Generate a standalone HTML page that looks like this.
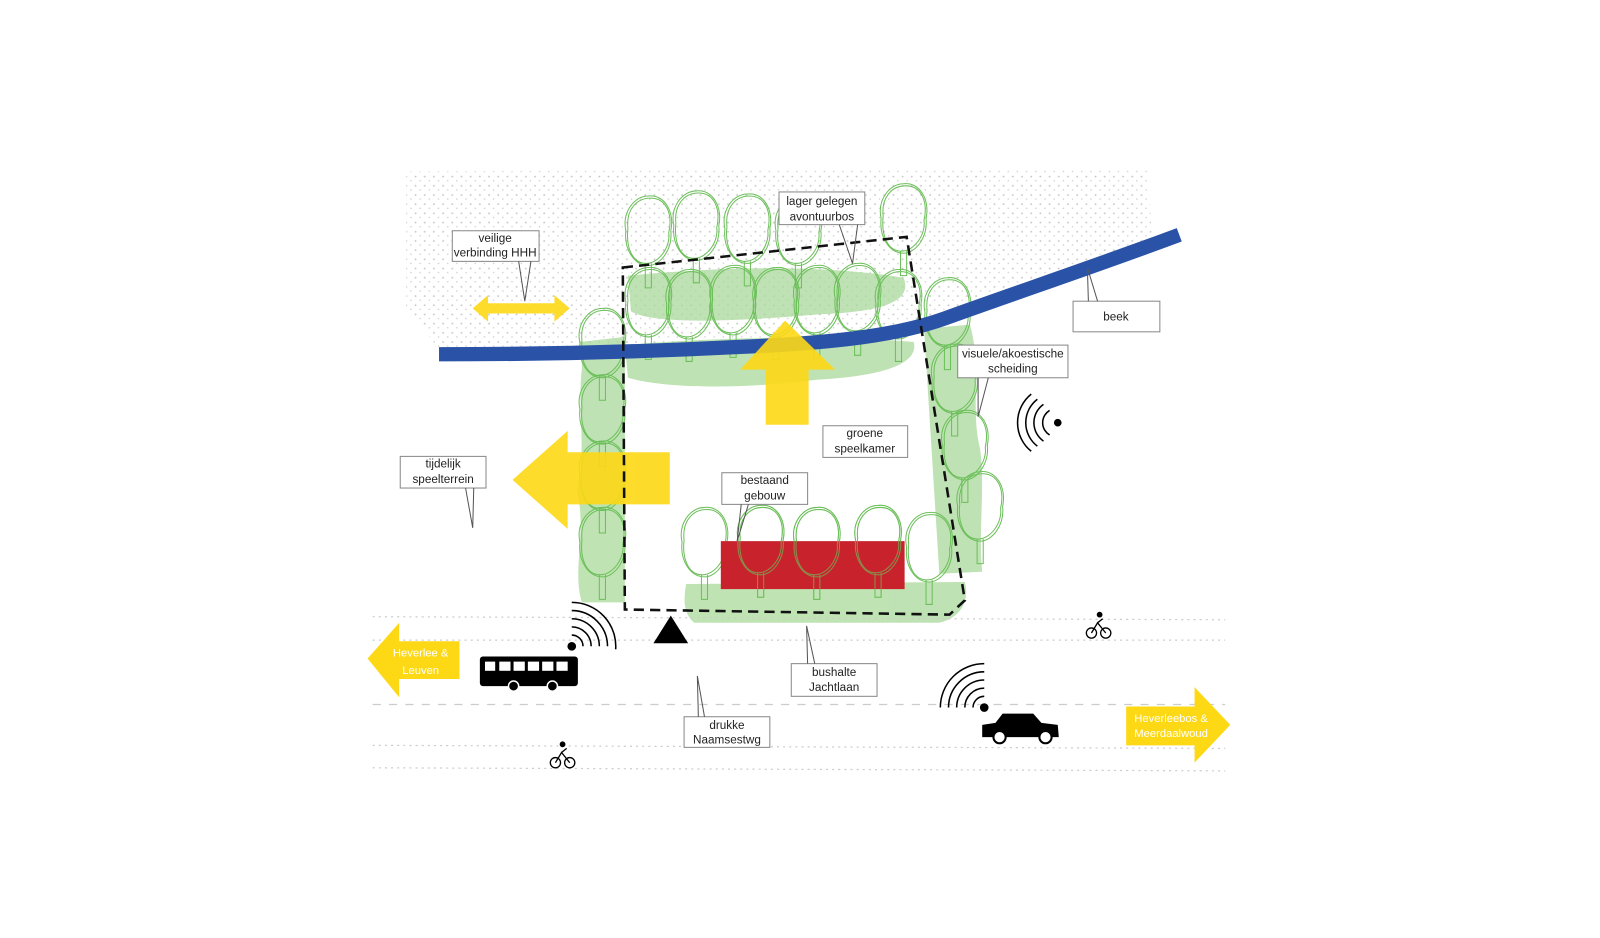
<!DOCTYPE html>
<html><head><meta charset="utf-8"><style>
html,body{margin:0;padding:0;background:#fff}
svg{display:block}
text{font-family:"Liberation Sans",sans-serif;font-size:11.5px;fill:#222;text-anchor:middle}
.lab rect{fill:#fff;stroke:#888;stroke-width:1}
.lab path{fill:none;stroke:#555;stroke-width:1}
</style></head><body>
<svg width="1600" height="938" viewBox="0 0 1600 938" xmlns="http://www.w3.org/2000/svg">
<defs>
<pattern id="dots" width="9" height="9" patternUnits="userSpaceOnUse">
<circle cx="2" cy="2" r="0.9" fill="#c8c8c8"/><circle cx="6.5" cy="6" r="0.8" fill="#d2d2d2"/>
</pattern>
<g id="tree" fill="none" stroke="#6cbf5a" stroke-width="1">
<path d="M0,-38 C16,-40 26,-22 22,-4 C24,14 12,30 0,30 C-14,30 -24,14 -22,-4 C-26,-22 -14,-38 0,-38Z"/>
<path d="M2,-36 C18,-36 24,-20 20,-2 C22,12 10,28 -2,28 C-16,28 -22,12 -20,-6 C-22,-24 -12,-36 2,-36Z"/>
<path d="M-3,28 L-3,52 L3,52 L3,28"/>
</g>
</defs>
<g transform="scale(1.021)">
<path d="M398,168 L1125,165 L1128,235 L960,290 L900,318 L700,338 L430,342 L398,300 Z" fill="url(#dots)"/>
<g fill="#a9d99a" opacity="0.75">
<path d="M615,270 C700,262 800,258 885,272 C892,290 880,305 800,308 C720,315 640,318 618,305 Z"/>
<path d="M612,338 C700,330 820,328 895,335 C900,355 870,368 800,372 C720,382 650,380 615,370 Z"/>
<path d="M568,335 L612,330 L612,590 L570,590 C560,560 575,520 565,480 C575,440 565,400 570,360 Z"/>
<path d="M905,322 L950,318 C962,360 950,400 960,440 C965,480 958,520 962,560 L920,562 Z"/>
<path d="M672,572 L945,570 C950,590 940,605 920,610 L680,610 C668,600 670,585 672,572 Z"/>
</g>
<g>
<use href="#tree" x="635" y="230"/><use href="#tree" x="682" y="225"/><use href="#tree" x="732" y="228"/><use href="#tree" x="782" y="230"/><use href="#tree" x="885" y="218"/>
<use href="#tree" x="635" y="300"/><use href="#tree" x="675" y="302"/><use href="#tree" x="718" y="298"/><use href="#tree" x="760" y="300"/><use href="#tree" x="800" y="298"/><use href="#tree" x="840" y="296"/><use href="#tree" x="880" y="302"/>
<use href="#tree" x="590" y="340"/><use href="#tree" x="590" y="405"/><use href="#tree" x="590" y="470"/><use href="#tree" x="590" y="535"/>
<use href="#tree" x="928" y="310"/><use href="#tree" x="935" y="375"/><use href="#tree" x="945" y="440"/><use href="#tree" x="960" y="500"/>
<use href="#tree" x="690" y="535"/><use href="#tree" x="745" y="533"/><use href="#tree" x="800" y="535"/><use href="#tree" x="860" y="533"/><use href="#tree" x="910" y="540"/>
</g>
<path d="M430,347 C520,347 620,345 720,340 C820,336 880,328 925,312 C1000,285 1080,258 1155,230" fill="none" stroke="#2a53a8" stroke-width="14"/>
<g fill="#fdd815" opacity="0.9">
<path d="M769,314 L818,362 L792,362 L792,416 L750,416 L750,362 L725,362 Z"/>
<path d="M502,470 L556,422 L556,443 L656,443 L656,494 L556,494 L556,518 Z"/>
<path d="M463,302 L478,289 L478,297 L543,297 L543,289 L558,302 L543,315 L543,307 L478,307 L478,315 Z"/>
</g>
<rect x="706" y="530" width="180" height="47" fill="#c8232c"/>
<g><use href="#tree" x="745" y="533" opacity="0.7"/><use href="#tree" x="800" y="535" opacity="0.7"/><use href="#tree" x="860" y="533" opacity="0.7"/></g>
<path d="M610,262 L888,232 L945,588 L930,602 L612,597 Z" fill="none" stroke="#111" stroke-width="2.5" stroke-dasharray="10,6"/>
<g stroke="#ccc" stroke-width="1.2" fill="none">
<line x1="365" y1="604" x2="1200" y2="607" stroke-dasharray="2,4"/>
<line x1="365" y1="627" x2="1200" y2="627" stroke-dasharray="2,4"/>
<line x1="365" y1="690" x2="1200" y2="690" stroke-dasharray="8,8"/>
<line x1="365" y1="730" x2="1200" y2="733" stroke-dasharray="2,4"/>
<line x1="365" y1="752" x2="1200" y2="755" stroke-dasharray="2,4"/>
</g>
<path d="M360,645 L391,610 L391,628 L450,628 L450,665 L391,665 L391,683 Z" fill="#fdd815"/>
<text x="412" y="643" style="fill:#fff;font-size:11px">Heverlee &amp;</text>
<text x="412" y="660" style="fill:#fff;font-size:11px">Leuven</text>
<path d="M1205,710 L1170,673 L1170,692 L1103,692 L1103,730 L1170,730 L1170,747 Z" fill="#fdd815"/>
<text x="1147" y="707" style="fill:#fff;font-size:11px">Heverleebos &amp;</text>
<text x="1147" y="722" style="fill:#fff;font-size:11px">Meerdaalwoud</text>
<path d="M657,603 L674,630 L640,630 Z" fill="#000"/>
<rect x="470" y="643" width="96" height="29" rx="3" fill="#000"/>
<g fill="#fff"><rect x="475" y="648" width="10" height="9"/><rect x="489" y="648" width="11" height="9"/><rect x="503" y="648" width="11" height="9"/><rect x="517" y="648" width="11" height="9"/><rect x="531" y="648" width="11" height="9"/><rect x="545" y="648" width="11" height="9"/></g>
<circle cx="503" cy="672" r="5" fill="#000" stroke="#fff" stroke-width="1.5"/><circle cx="541" cy="672" r="5" fill="#000" stroke="#fff" stroke-width="1.5"/>
<path d="M962,710 L975,708 L982,699 L1012,699 L1020,708 L1036,710 L1037,722 L962,722 Z" fill="#000"/>
<circle cx="979" cy="722" r="6" fill="#fff" stroke="#000" stroke-width="2"/><circle cx="1024" cy="722" r="6" fill="#fff" stroke="#000" stroke-width="2"/>
<g fill="none" stroke="#000" stroke-width="1.5">
<circle cx="560" cy="633" r="3.5" fill="#000"/>
<path d="M560,622 A11,11 0 0 1 571,633"/><path d="M560,614 A19,19 0 0 1 579,633"/><path d="M560,606 A27,27 0 0 1 587,633"/><path d="M560,598 A35,35 0 0 1 595,633"/><path d="M560,590 A43,43 0 0 1 603,636"/>
<circle cx="964" cy="693" r="3.5" fill="#000"/>
<path d="M953,693 A11,11 0 0 1 964,682"/><path d="M945,693 A19,19 0 0 1 964,674"/><path d="M937,693 A27,27 0 0 1 964,666"/><path d="M929,693 A35,35 0 0 1 964,658"/><path d="M921,693 A43,43 0 0 1 964,650"/>
<circle cx="1036" cy="414" r="3" fill="#000"/>
<path d="M1028,402 A14,14 0 0 0 1028,426"/><path d="M1022,396 A22,22 0 0 0 1022,432"/><path d="M1016,391 A29,29 0 0 0 1016,437"/><path d="M1010,386 A36,36 0 0 0 1010,442"/>
</g>
<g fill="none" stroke="#000" stroke-width="1.3">
<circle cx="1069" cy="620" r="5"/><circle cx="1083" cy="620" r="5"/><path d="M1069,620 L1075,610 L1083,620 M1075,610 L1080,606"/><circle cx="1077" cy="602" r="2.2" fill="#000"/>
<circle cx="544" cy="747" r="5"/><circle cx="558" cy="747" r="5"/><path d="M544,747 L550,737 L558,747 M550,737 L555,733"/><circle cx="551" cy="729" r="2.2" fill="#000"/>
</g>
<g class="lab">
<rect x="443" y="226" width="85" height="30"/><path d="M508,256 L514,295 L520,256"/>
<text x="485" y="237">veilige</text><text x="485" y="251">verbinding HHH</text>
<rect x="763" y="188" width="84" height="32"/><path d="M822,220 L835,258 L840,220"/>
<text x="805" y="201">lager gelegen</text><text x="805" y="216">avontuurbos</text>
<rect x="1051" y="295" width="85" height="30"/><path d="M1075,295 L1065,262 L1066,295"/>
<text x="1093" y="314">beek</text>
<rect x="938" y="338" width="108" height="32"/><path d="M958,370 L958,408 L968,370"/>
<text x="992" y="350">visuele/akoestische</text><text x="992" y="365">scheiding</text>
<rect x="806" y="417" width="83" height="31"/>
<text x="847" y="428">groene</text><text x="847" y="443">speelkamer</text>
<rect x="392" y="447" width="84" height="31"/><path d="M456,478 L463,517 L464,478"/>
<text x="434" y="458">tijdelijk</text><text x="434" y="473">speelterrein</text>
<rect x="707" y="463" width="84" height="31"/><path d="M726,494 L722,530 L733,494"/>
<text x="749" y="474">bestaand</text><text x="749" y="489">gebouw</text>
<rect x="775" y="650" width="84" height="32"/><path d="M798,650 L790,613 L791,650"/>
<text x="817" y="662">bushalte</text><text x="817" y="677">Jachtlaan</text>
<rect x="670" y="702" width="84" height="30"/><path d="M690,702 L683,662 L684,702"/>
<text x="712" y="714">drukke</text><text x="712" y="728">Naamsestwg</text>
</g>
</g>
</svg>
</body></html>
